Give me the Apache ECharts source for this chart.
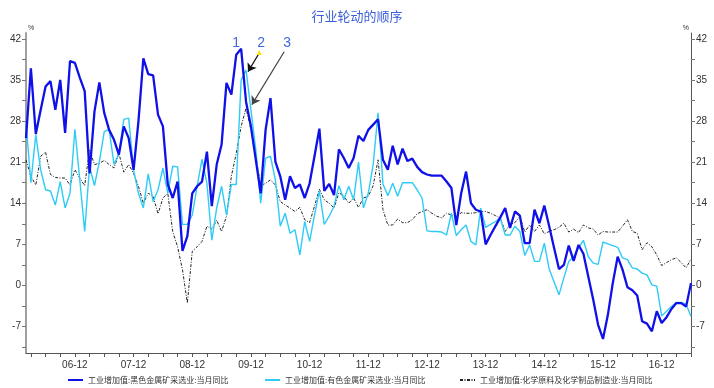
<!DOCTYPE html>
<html><head><meta charset="utf-8">
<script src="https://cdn.jsdelivr.net/npm/echarts@6/dist/echarts.min.js"></script>
<style>html,body{margin:0;padding:0;background:#fff}#c{width:714px;height:388px}</style>
</head><body><div id="c"></div>
<script>
// Monthly observations, first = 2006-02, last = 2017-06 (index 0..136)
const startYear = 2006, startMonth = 2;
const tickLabels = ['06-12','07-12','08-12','09-12','10-12','11-12','12-12','13-12','14-12','15-12','16-12'];
const yLabels = [-7, 0, 7, 14, 21, 28, 35, 42];
const seriesNames = ['工业增加值:黑色金属矿采选业:当月同比','工业增加值:有色金属矿采选业:当月同比','工业增加值:化学原料及化学制品制造业:当月同比'];

const ferrous = [25.1,37.0,25.8,29.9,33.9,34.8,29.9,35.0,26.0,38.2,37.9,35.4,33.1,19.1,29.6,34.6,29.4,26.5,24.8,22.3,
27.1,25.1,19.7,28.0,38.7,36.0,35.8,29.1,27.1,17.2,14.9,17.7,5.9,8.4,15.7,16.9,17.7,22.8,13.5,20.6,
24.0,34.5,32.5,39.3,40.3,31.3,27.1,21.4,15.7,26.5,31.9,21.1,18.6,14.6,18.6,16.6,17.2,14.9,17.4,22.0,
26.7,16.1,17.3,15.4,23.2,21.7,20.0,21.7,25.5,24.6,26.5,27.4,28.3,21.4,19.7,23.8,20.6,23.3,21.2,21.6,
20.2,19.3,18.9,18.7,18.7,18.7,17.7,16.6,10.3,15.7,19.4,14.0,12.9,12.6,7.0,8.6,10.1,11.6,13.2,9.8,
12.6,11.9,7.2,7.2,12.9,10.6,13.6,10.1,6.4,2.8,3.5,6.8,4.2,6.9,5.4,1.5,-2.4,-6.7,-9.1,-5.0,
0.4,4.9,2.7,-0.3,-0.8,-1.7,-6.1,-6.5,-7.8,-4.4,-6.4,-5.4,-4.0,-3.0,-3.0,-3.6,0.4];

const nonferrous = [27.7,17.5,25.7,19.7,16.3,16.1,13.7,17.7,13.2,15.7,26.6,18.0,9.2,20.3,17.0,21.1,26.2,26.6,20.6,22.5,
28.3,28.5,19.7,15.7,13.2,19.0,14.3,16.3,20.0,15.7,20.3,20.2,10.4,10.4,12.0,16.9,21.5,17.4,7.7,13.2,
16.9,12.0,17.2,17.2,35.0,36.7,29.9,23.1,14.0,21.7,22.0,18.0,10.1,12.3,8.9,9.5,5.2,10.9,7.5,12.0,
16.1,10.4,11.8,13.5,17.0,14.6,16.9,14.6,21.0,13.2,15.7,20.6,29.4,17.3,15.3,17.4,15.2,17.5,17.5,17.5,
16.3,14.9,9.3,9.2,9.2,9.1,8.6,12.3,8.5,9.5,10.3,7.5,6.9,13.2,9.9,10.4,10.9,11.5,8.6,8.6,
10.1,9.2,5.1,6.9,4.1,4.1,7.2,2.8,0.6,-1.6,1.3,4.1,4.9,6.4,7.7,4.9,3.8,3.6,7.4,7.1,
6.8,6.5,4.7,4.4,3.0,2.8,2.1,1.8,0.1,-0.1,-5.2,-4.4,-3.6,-2.9,-2.9,-3.2,-5.3];

const chemical = [21.4,18.6,17.1,22.0,22.7,18.9,18.4,18.3,18.3,17.1,19.7,18.3,17.0,23.1,20.6,20.8,21.3,20.6,20.0,22.5,
19.3,20.6,19.1,16.9,14.0,15.7,15.2,12.2,14.9,15.7,9.2,6.6,2.7,-3.0,5.8,6.6,7.5,10.1,9.6,11.1,
9.2,11.8,18.6,22.5,27.1,30.2,26.5,22.0,17.0,17.4,18.0,17.1,14.3,13.7,13.2,12.6,13.3,11.2,10.7,13.5,
16.4,14.6,14.0,13.2,15.8,15.2,14.0,14.9,13.3,14.9,15.2,17.0,21.4,12.9,10.3,10.3,11.3,10.7,10.7,11.2,
12.2,12.6,12.9,12.3,11.8,11.5,12.3,12.0,11.6,12.4,12.3,12.3,12.4,12.6,12.6,12.3,11.9,11.5,9.2,10.4,
10.7,11.8,9.1,10.3,9.2,10.3,8.8,9.2,9.5,9.9,10.6,9.1,9.6,9.0,10.3,9.8,9.6,8.6,9.2,9.1,
9.1,9.1,10.1,11.2,9.2,8.9,6.1,7.3,6.6,5.2,3.4,3.9,4.4,4.7,3.9,3.0,4.5];

const lastIndex = ferrous.length - 1;
function labelIndex(lbl) {
  const yy = 2000 + parseInt(lbl.slice(0, 2), 10), mm = parseInt(lbl.slice(3), 10);
  return (yy - startYear) * 12 + (mm - startMonth);
}
const labelPos = tickLabels.map(labelIndex);
const labelMap = {}; tickLabels.forEach((l, k) => labelMap[labelPos[k]] = l);
const xTicks = []; for (let i = labelPos[0] % 3; i <= lastIndex; i += 3) xTicks.push(i);
const yTicks = []; for (let v = -10.5; v <= 42; v += 3.5) yTicks.push(v);

const pairs = arr => arr.map((v, i) => [i, v]);
const annoColor = '#4466DD';
const txt = (t, c) => ({ coord: c, symbol: 'circle', symbolSize: 0,
  label: { show: true, formatter: t, position: 'inside', color: annoColor, fontSize: 14, fontFamily: 'Liberation Sans' } });

const chart = echarts.init(document.getElementById('c'), null, { renderer: 'canvas' });
const yAxisCommon = {
  type: 'value', min: -11.5, max: 43,
  splitLine: { show: false },
  axisTick: { show: true, customValues: yTicks, length: 4, lineStyle: { color: '#777' } },
  axisLabel: { customValues: yLabels, fontSize: 10, color: '#333', fontFamily: 'Liberation Sans', margin: 5 },
  name: '%', nameLocation: 'end', nameGap: 1,
};
chart.setOption({
  animation: false,
  title: { text: '行业轮动的顺序', left: 'center', top: 5,
    textStyle: { fontSize: 13, fontWeight: 'normal', color: '#3A5FD8', fontFamily: 'Noto Sans CJK SC' } },
  grid: { left: 26, right: 23, top: 33, bottom: 35 },
  legend: seriesNames.map((n, k) => ({
    data: [n], left: [67, 264, 459][k], top: 376, itemWidth: 15, itemHeight: 8, padding: 0,
    itemStyle: { opacity: 0 },
    textStyle: { fontSize: 8, color: '#333', fontFamily: 'Noto Sans CJK SC' }
  })),
  xAxis: {
    type: 'value', min: 0, max: lastIndex,
    splitLine: { show: false },
    axisLine: { onZero: false, lineStyle: { color: '#555', width: 1 } },
    axisTick: { show: true, customValues: xTicks, length: 4, lineStyle: { color: '#555' } },
    axisLabel: { customValues: labelPos, formatter: v => labelMap[v] || '', fontSize: 10, color: '#333',
      fontFamily: 'Liberation Sans', margin: 7 }
  },
  yAxis: [
    Object.assign({}, yAxisCommon, { position: 'left',
      axisLine: { show: true, onZero: false, lineStyle: { color: '#A0A0A0', width: 2 } },
      nameTextStyle: { fontSize: 7, color: '#333', align: 'left', padding: [0, 0, 0, 2] } }),
    Object.assign({}, yAxisCommon, { position: 'right',
      axisLine: { show: true, onZero: false, lineStyle: { color: '#555', width: 1 } },
      nameTextStyle: { fontSize: 7, color: '#333', align: 'right', padding: [0, 2, 0, 0] } })
  ],
  series: [
    { name: seriesNames[2], type: 'line', data: pairs(chemical), symbol: 'none', z: 2,
      itemStyle: { color: '#222' },
      lineStyle: { color: '#222', width: 1, type: [3, 1.5, 1, 1.5] } },
    { name: seriesNames[1], type: 'line', data: pairs(nonferrous), symbol: 'none', z: 3,
      itemStyle: { color: '#2ECBF7' },
      lineStyle: { color: '#2ECBF7', width: 1.4 },
      markLine: { silent: true, symbol: ['none', 'arrow'], symbolSize: 8, label: { show: false },
        lineStyle: { color: '#111', width: 1.3, type: 'solid' },
        data: [
          [{ coord: [47.7, 39.6] }, { coord: [45.4, 36.4] }],
          [{ coord: [52.8, 39.8], lineStyle: { color: '#444', width: 1.2 } }, { coord: [46.2, 30.8] }]
        ] },
      markPoint: { silent: true, data: [
        { coord: [47.7, 39.7], symbol: 'triangle', symbolSize: 5, itemStyle: { color: '#FFE000' }, label: { show: false } }
      ] } },
    { name: seriesNames[0], type: 'line', data: pairs(ferrous), symbol: 'none', z: 4,
      itemStyle: { color: '#1010E8' },
      lineStyle: { color: '#1010E8', width: 2.3 },
      markPoint: { silent: true, data: [txt('1', [43, 41.2]), txt('2', [48.1, 41.2]), txt('3', [53.4, 41.2])] } }
  ]
});
</script></body></html>
